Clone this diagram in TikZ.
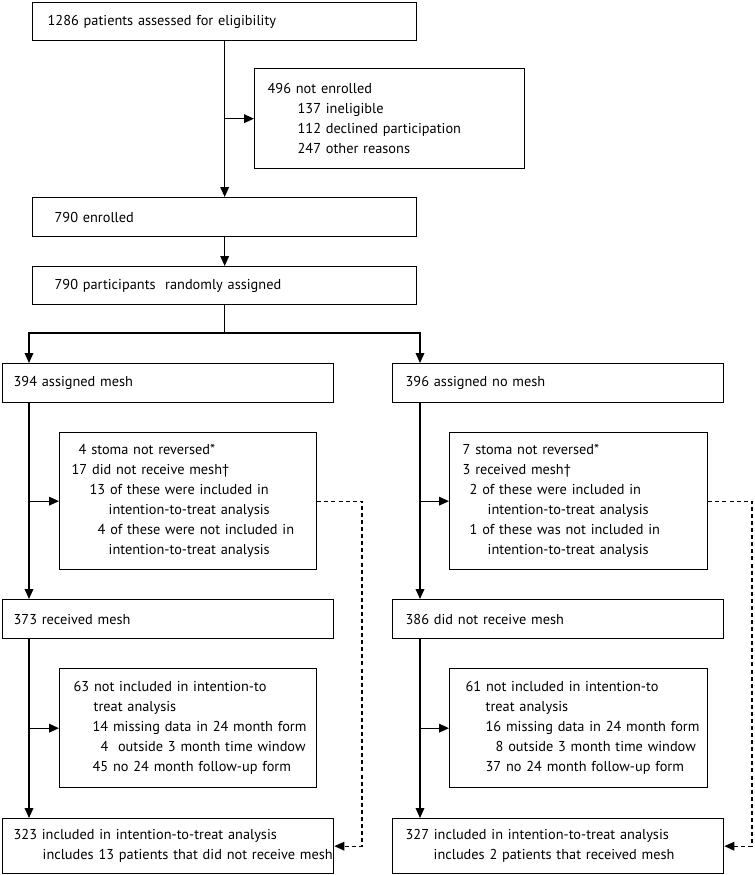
\documentclass[tikz,border=0pt]{standalone}
\usepackage{fontspec}
\setmainfont{PT Sans}
\usetikzlibrary{arrows.meta,positioning,calc}

\tikzset{
  flowbox/.style={draw, line width=1pt, anchor=north west, align=left,
    inner sep=0pt, font=\fontsize{10.75}{15}\selectfont},
  arr/.style={line width=1pt, -{Triangle[length=7.5pt,width=6.5pt]}},
  dasharr/.style={line width=0.9pt, dash pattern=on 3pt off 2.3pt,
    -{Triangle[length=7.5pt,width=6.5pt]}}
}

\begin{document}
\begin{tikzpicture}[x=0.75pt, y=-0.75pt]
    \useasboundingbox (0,0) rectangle (754,875);

    % Screening
    \node[flowbox, text width=288pt, minimum height=28.5pt]
      (assess) at (32,2) {\hspace*{11.25pt}1286 patients assessed for eligibility};
    \node[flowbox, text width=202.5pt, minimum height=75pt]
      (notenr) at (254,68) {\hspace*{9.75pt}496 not enrolled\\
      \hspace*{32.25pt}137 ineligible\\
      \hspace*{32.25pt}112 declined participation\\
      \hspace*{32.25pt}247 other reasons};
    \node[flowbox, text width=288pt, minimum height=29.25pt]
      (enrolled) at (32,197) {\hspace*{16.5pt}790 enrolled};
    \node[flowbox, text width=288pt, minimum height=28.5pt]
      (random) at (32,266) {\hspace*{16.5pt}790 participants\ \ randomly assigned};

    % Mesh arm
    \node[flowbox, text width=248.25pt, minimum height=29.25pt]
      (meshA) at (2,363) {\hspace*{8.25pt}394 assigned mesh};
    \node[flowbox, text width=192.75pt, minimum height=102.75pt]
      (stomaA) at (59,432) {\hspace*{14.25pt}4 stoma not reversed*\\
      \hspace*{9pt}17 did not receive mesh\textdagger\\
      \hspace*{22.5pt}13 of these were included in\\
      \hspace*{36.75pt}intention-to-treat analysis\\
      \hspace*{28.5pt}4 of these were not included in\\
      \hspace*{36.75pt}intention-to-treat analysis};
    \node[flowbox, text width=248.25pt, minimum height=29.25pt]
      (recA) at (2,599) {\hspace*{8.25pt}373 received mesh};
    \node[flowbox, text width=192.75pt, minimum height=89.25pt]
      (ittA) at (59,668) {\hspace*{10.5pt}63 not included in intention-to\\
      \hspace*{25.5pt}treat analysis\\
      \hspace*{24.75pt}14 missing data in 24 month form\\
      \hspace*{30.75pt}4\ \ outside 3 month time window\\
      \hspace*{24.75pt}45 no 24 month follow-up form};
    \node[flowbox, text width=248.25pt, minimum height=41.25pt]
      (finA) at (2,818) {\hspace*{8.25pt}323 included in intention-to-treat analysis\\
      \hspace*{30pt}includes 13 patients that did not receive mesh};

    % No mesh arm
    \node[flowbox, text width=248.25pt, minimum height=29.25pt]
      (meshB) at (392,363) {\hspace*{9.75pt}396 assigned no mesh};
    \node[flowbox, text width=193.5pt, minimum height=102.75pt]
      (stomaB) at (449,432) {\hspace*{9.75pt}7 stoma not reversed*\\
      \hspace*{9.75pt}3 received mesh\textdagger\\
      \hspace*{15pt}2 of these were included in\\
      \hspace*{28.5pt}intention-to-treat analysis\\
      \hspace*{15pt}1 of these was not included in\\
      \hspace*{28.5pt}intention-to-treat analysis};
    \node[flowbox, text width=248.25pt, minimum height=29.25pt]
      (recB) at (392,599) {\hspace*{9.75pt}386 did not receive mesh};
    \node[flowbox, text width=193.5pt, minimum height=89.25pt]
      (ittB) at (449,668) {\hspace*{12pt}61 not included in intention-to\\
      \hspace*{27pt}treat analysis\\
      \hspace*{27pt}16 missing data in 24 month form\\
      \hspace*{34.5pt}8 outside 3 month time window\\
      \hspace*{27pt}37 no 24 month follow-up form};
    \node[flowbox, text width=248.25pt, minimum height=41.25pt]
      (finB) at (392,818) {\hspace*{9.75pt}327 included in intention-to-treat analysis\\
      \hspace*{30.75pt}includes 2 patients that received mesh};

    % helper points
    \coordinate (split) at (224,333);
    \coordinate (splitA) at (29,333);
    \coordinate (splitB) at (420,333);
    \coordinate (detourA) at (362,0);
    \coordinate (detourB) at (752,0);

    % top trunk
    \draw[arr] (assess.south) -- (enrolled.north);
    \draw[arr] (assess.south |- notenr.west) -- (notenr.west);
    \draw[arr] (enrolled.south) -- (random.north);
    \draw[line width=1pt] (random.south) -- (random.south |- split);
    \draw[arr] (random.south |- split) -- (splitA) -- (splitA |- meshA.north);
    \draw[arr] (random.south |- split) -- (splitB) -- (splitB |- meshB.north);

    % mesh arm
    \draw[arr] (splitA |- meshA.south) -- (splitA |- recA.north);
    \draw[arr] (splitA |- stomaA.west) -- (stomaA.west);
    \draw[arr] (splitA |- recA.south) -- (splitA |- finA.north);
    \draw[arr] (splitA |- ittA.west) -- (ittA.west);
    \draw[dasharr] (stomaA.east) -- (stomaA.east -| detourA) -- (detourA |- finA.east) -- (finA.east);

    % no mesh arm
    \draw[arr] (splitB |- meshB.south) -- (splitB |- recB.north);
    \draw[arr] (splitB |- stomaB.west) -- (stomaB.west);
    \draw[arr] (splitB |- recB.south) -- (splitB |- finB.north);
    \draw[arr] (splitB |- ittB.west) -- (ittB.west);
    \draw[dasharr] (stomaB.east) -- (stomaB.east -| detourB) -- (detourB |- finB.east) -- (finB.east);
\end{tikzpicture}
\end{document}
